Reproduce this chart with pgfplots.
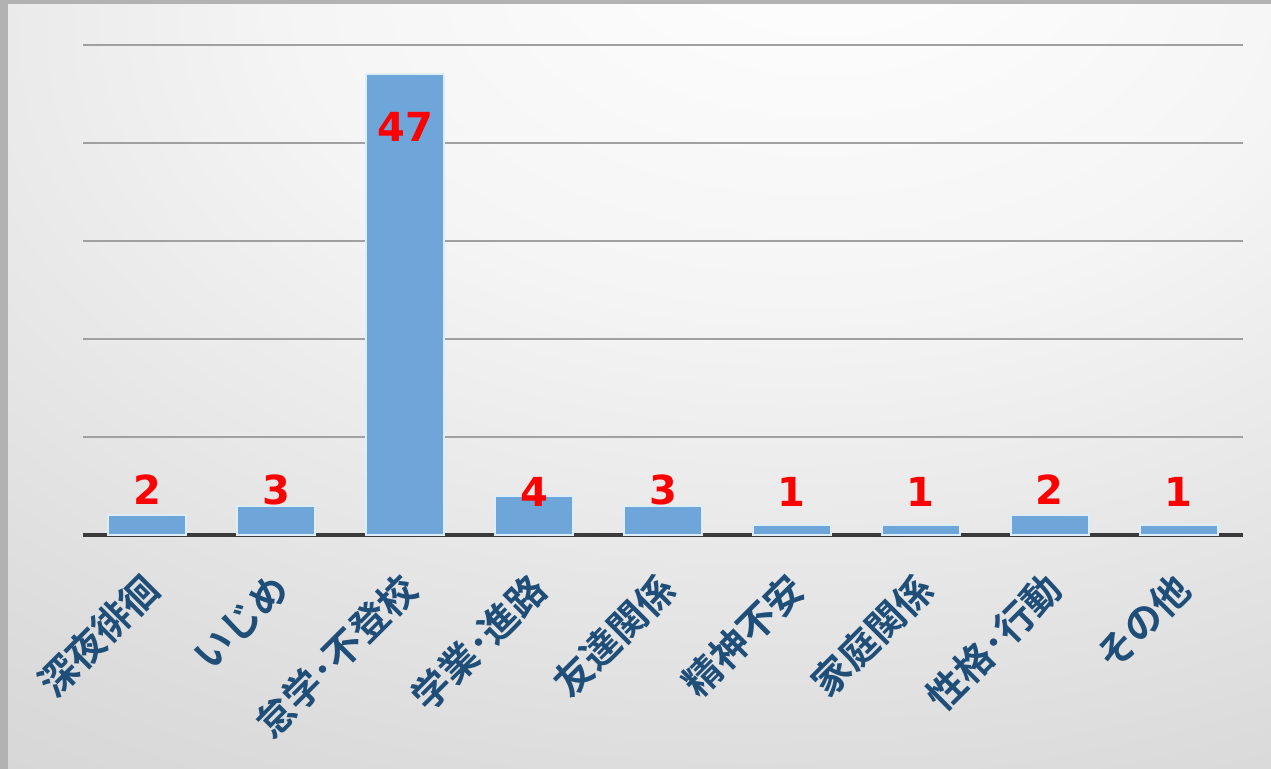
\documentclass[border=0pt]{standalone}
\usepackage{pgfplots}
\pgfplotsset{compat=1.18}
\usepackage{fontspec}
\newfontfamily\cjk{Noto Sans CJK JP}[BoldFont={Noto Sans CJK JP Bold}]
\newfontfamily\numfont{DejaVu Sans}
\definecolor{barblue}{HTML}{6FA6DA}
\definecolor{baredge}{HTML}{DDEEFA}
\definecolor{labelblue}{HTML}{1F4E79}
\definecolor{gridgray}{HTML}{A0A0A0}
\definecolor{axisdark}{HTML}{3A3A3A}
\pgfdeclareradialshading{bg}{\pgfpoint{8bp}{32bp}}{color(0bp)=(white); color(20bp)=(white!96!black); color(45bp)=(white!86!black); color(70bp)=(white!78!black); color(100bp)=(white!72!black)}
\begin{document}
\begin{tikzpicture}
\fill[white!70!black] (0,0) rectangle (635.5pt,384.5pt);
\shade[shading=bg] (4pt,0pt) rectangle (635.5pt,382pt);
\begin{axis}[
  at={(41.5pt,117pt)}, anchor=south west,
  scale only axis, width=580pt, height=245pt,
  xmin=-0.5, xmax=8.5, ymin=0, ymax=50,
  axis x line*=bottom, axis y line*=left,
  x axis line style={line width=2pt, color=axisdark, -},
  y axis line style={draw=none},
  ytick={10,20,30,40,50}, yticklabels={},
  ymajorgrids, grid style={gridgray, line width=1pt},
  major tick length=0pt,
  xtick={0,...,8},
  xticklabels={深夜徘徊,いじめ,怠学･不登校,学業･進路,友達関係,精神不安,家庭関係,性格･行動,その他},
  xticklabel style={xshift=5pt, yshift=-21pt, rotate=45, anchor=east, font=\cjk\bfseries\fontsize{19}{19}\selectfont, text=labelblue},
  clip=false,
]
\addplot[ybar, bar width=39pt, fill=barblue, draw=baredge, line width=1pt]
  coordinates {(0,2)(1,3)(2,47)(3,4)(4,3)(5,1)(6,1)(7,2)(8,1)};
\addplot[draw=none, mark=none, nodes near coords, point meta=explicit symbolic,
  nodes near coords style={font=\numfont\bfseries\fontsize{20}{20}\selectfont, text=red, anchor=center}]
  coordinates {(0,4.6)[2] (1,4.6)[3] (2,41.6)[47] (3,4.4)[4] (4,4.6)[3] (5,4.4)[1] (6,4.4)[1] (7,4.6)[2] (8,4.4)[1]};
\end{axis}
\end{tikzpicture}
\end{document}
